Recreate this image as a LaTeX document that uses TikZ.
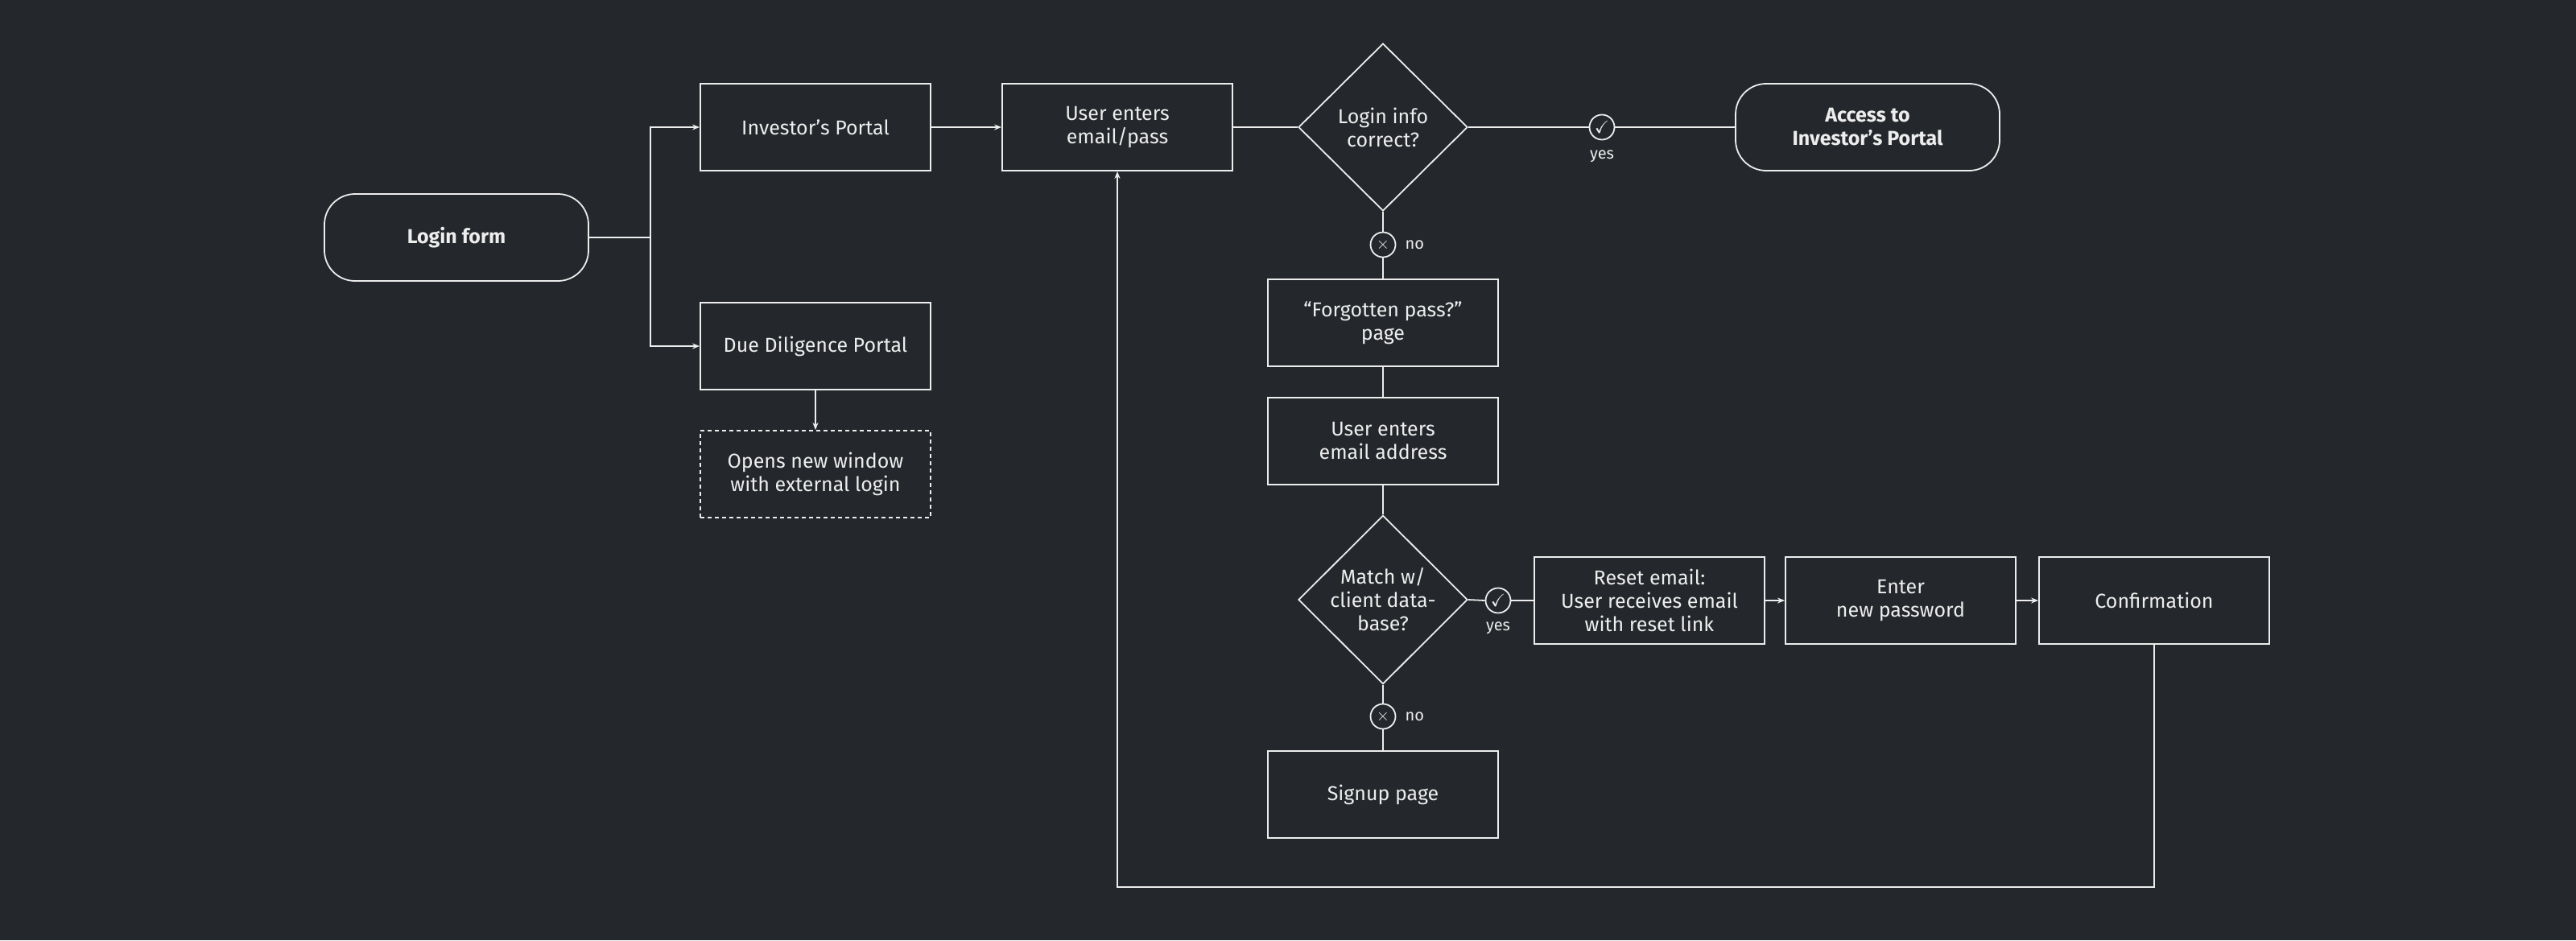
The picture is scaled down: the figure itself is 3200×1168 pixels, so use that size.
\documentclass[tikz,border=0pt]{standalone}
\usepackage{amssymb}
\usepackage{fontspec}
\setmainfont{Fira Sans}
\usetikzlibrary{shapes.geometric,arrows.meta}
\definecolor{bg}{HTML}{24272B}
\definecolor{fg}{HTML}{EDEDED}
\begin{document}
\begin{tikzpicture}[x=1pt,y=-1pt,
  every node/.style={text=fg,font=\fontsize{25}{29}\selectfont,align=center},
  box/.style={draw=fg,line width=1.8pt,minimum width=286pt,minimum height=108pt,inner sep=0pt},
  term/.style={box,rounded corners=38pt,minimum width=328pt,font=\fontsize{25}{29}\selectfont\bfseries},
  dia/.style={draw=fg,line width=1.8pt,diamond,minimum width=210pt,minimum height=208pt,inner sep=0pt,aspect=1},
  ynmark/.style={draw=fg,line width=1.8pt,circle,minimum size=31pt,inner sep=0pt,font=\fontsize{22}{22}\selectfont},
  lab/.style={font=\fontsize{20}{20}\selectfont},
  ln/.style={draw=fg,line width=1.8pt},
  arr/.style={ln,-{Stealth[length=9pt,width=7pt]}}]
\fill[bg] (0,0) rectangle (3200,1168);
\useasboundingbox (0,0) rectangle (3200,1168);
\node[term] (login) at (567,295) {Login form};
\node[box] (inv) at (1013,158) {Investor’s Portal};
\node[box] (dd) at (1013,430) {Due Diligence Portal};
\node[box,dashed,dash pattern=on 5pt off 4pt] (ext) at (1013,589) {Opens new window\\with external login};
\node[box] (uep) at (1388,158) {User enters\\email/pass};
\node[dia] (d1) at (1718,158) {Login info\\correct?};
\node[ynmark] (y1) at (1990,158) {$\checkmark$};
\node[lab] (y1l) at (1990,194) {yes};
\node[term] (acc) at (2320,158) {Access to\\Investor’s Portal};
\node[ynmark] (n1) at (1718,304) {$\times$};
\node[lab,anchor=west] (n1l) at (1742,304) {no};
\node[box] (fp) at (1718,401) {“Forgotten pass?”\\page};
\node[box] (uea) at (1718,548) {User enters\\email address};
\node[dia] (d2) at (1718,745) {Match w/\\client data-\\base?};
\node[ynmark] (y2) at (1861,746) {$\checkmark$};
\node[lab] (y2l) at (1861,780) {yes};
\node[box] (re) at (2049,746) {Reset email:\\User receives email\\with reset link};
\node[box] (np) at (2361,746) {Enter\\new password};
\node[box] (conf) at (2676,746) {Confirmation};
\node[ynmark] (n2) at (1718,890) {$\times$};
\node[lab,anchor=west] (n2l) at (1742,890) {no};
\node[box] (sp) at (1718,987) {Signup page};
\coordinate (br) at (808,295);
\coordinate (lb) at (2676,1102);
\coordinate (lc) at (1388,1102);
\draw[ln] (login.east) -- (br);
\draw[arr] (br) |- (inv.west);
\draw[arr] (br) |- (dd.west);
\draw[arr] (dd.south) -- (ext.north);
\draw[arr] (inv.east) -- (uep.west);
\draw[ln] (uep.east) -- (d1.west);
\draw[ln] (d1.east) -- (y1.west);
\draw[ln] (y1.east) -- (acc.west);
\draw[ln] (d1.south) -- (n1.north);
\draw[ln] (n1.south) -- (fp.north);
\draw[ln] (fp.south) -- (uea.north);
\draw[ln] (uea.south) -- (d2.north);
\draw[ln] (d2.east) -- (y2.west);
\draw[ln] (y2.east) -- (re.west);
\draw[arr] (re.east) -- (np.west);
\draw[arr] (np.east) -- (conf.west);
\draw[ln] (d2.south) -- (n2.north);
\draw[ln] (n2.south) -- (sp.north);
\draw[arr] (conf.south) -- (lb) -- (lc) -- (uep.south);
\end{tikzpicture}
\end{document}
